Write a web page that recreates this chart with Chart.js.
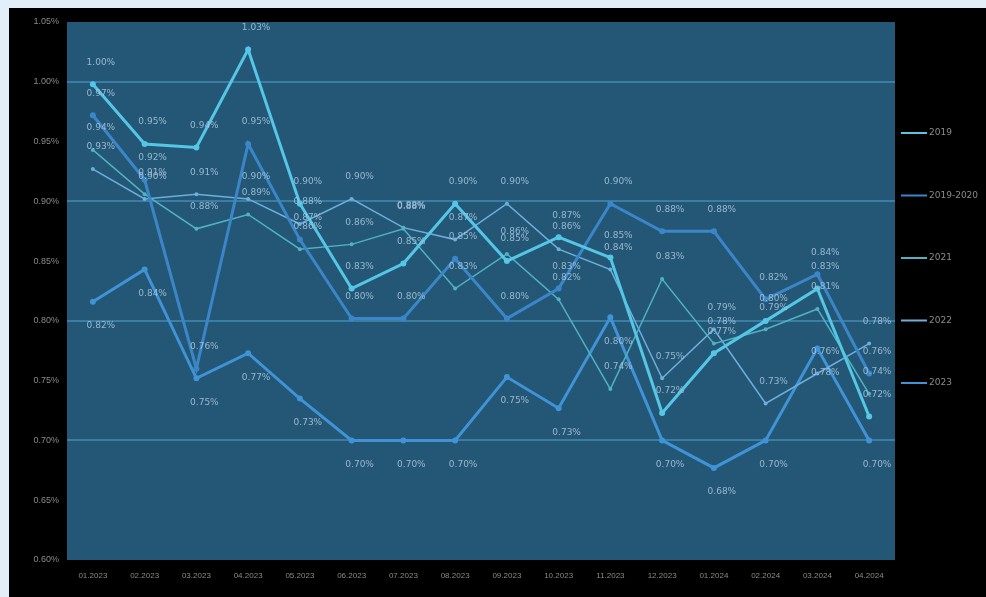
<!DOCTYPE html>
<html>
<head>
<meta charset="utf-8">
<script src="https://cdn.jsdelivr.net/npm/chart.js@4.4.0/dist/chart.umd.min.js"></script>
<style>
  html, body { margin: 0; padding: 0; background: #e2eff9; }
  #wrap { position: absolute; left: 9px; top: 8px; width: 977px; height: 589px; background: #000; }
</style>
</head>
<body>
<div id="wrap"><canvas id="myChart"></canvas></div>
<script>
// categories
var months = ["01.2023", "02.2023", "03.2023", "04.2023", "05.2023", "06.2023", "07.2023", "08.2023",
              "09.2023", "10.2023", "11.2023", "12.2023", "01.2024", "02.2024", "03.2024", "04.2024"];

// series values (%)
var s1 = [0.998, 0.948, 0.945, 1.027, 0.898, 0.827, 0.848, 0.898, 0.850, 0.870, 0.853, 0.723, 0.773, 0.800, 0.827, 0.720];
var s2 = [0.816, 0.843, 0.752, 0.773, 0.735, 0.700, 0.700, 0.700, 0.753, 0.727, 0.803, 0.700, 0.677, 0.700, 0.777, 0.700];
var s3 = [0.972, 0.918, 0.760, 0.948, 0.868, 0.802, 0.802, 0.852, 0.802, 0.827, 0.898, 0.875, 0.875, 0.818, 0.839, 0.756];
var s4 = [0.927, 0.902, 0.906, 0.902, 0.881, 0.902, 0.878, 0.868, 0.898, 0.860, 0.843, 0.752, 0.793, 0.731, 0.756, 0.781];
var s5 = [0.943, 0.906, 0.877, 0.889, 0.860, 0.864, 0.877, 0.827, 0.856, 0.818, 0.743, 0.835, 0.781, 0.793, 0.810, 0.739];

var seriesNames = ["2019", "2019-2020", "2021", "2022", "2023"];
var yMin = 0.60, yMax = 1.05, yStep = 0.05;

function mkSet(label, data, color, width, labelPos) {
    return {
        label: label,
        data: data,
        fill: false,
        tension: 0,
        borderColor: color,
        backgroundColor: color,
        borderWidth: width,
        pointRadius: width > 2 ? 3 : 2,
        pointBorderWidth: 0,
        pointBackgroundColor: color,
        labelPos: labelPos
    };
}

// plot background
var plotBg = {
    id: 'plotBg',
    beforeDraw: function (chart) {
        var a = chart.chartArea, c = chart.ctx;
        c.save();
        c.fillStyle = '#235775';
        c.fillRect(a.left, a.top, a.right - a.left, a.bottom - a.top);
        c.restore();
    }
};

// value labels next to points
var pointLabels = {
    id: 'pointLabels',
    afterDatasetsDraw: function (chart) {
        var c = chart.ctx;
        c.save();
        c.font = '9px "DejaVu Sans"';
        c.fillStyle = 'rgba(170,200,225,0.85)';
        c.textAlign = 'center';
        c.textBaseline = 'middle';
        chart.data.datasets.forEach(function (ds, i) {
            var meta = chart.getDatasetMeta(i);
            meta.data.forEach(function (pt, j) {
                var dy = ds.labelPos === 'below' ? 24 : -22;
                c.fillText(ds.data[j].toFixed(2) + '%', pt.x + 8, pt.y + dy);
            });
        });
        c.restore();
    }
};

// legend drawn on the right
var sideLegend = {
    id: 'sideLegend',
    afterDraw: function (chart) {
        var c = chart.ctx, a = chart.chartArea;
        c.save();
        c.font = '9px "DejaVu Sans"';
        c.textBaseline = 'middle';
        chart.data.datasets.forEach(function (ds, i) {
            var y = a.top + 111 + i * 62.5;
            var x = a.right + 6;
            c.strokeStyle = ds.borderColor;
            c.lineWidth = 2;
            c.beginPath();
            c.moveTo(x, y);
            c.lineTo(x + 26, y);
            c.stroke();
            c.fillStyle = '#8a8a8a';
            c.fillText(ds.label, x + 28, y);
        });
        c.restore();
    }
};

var ctx = document.getElementById("myChart").getContext('2d');
var myChart = new Chart(ctx, {
    type: 'line',
    data: {
        labels: months,
        datasets: [
            mkSet(seriesNames[0], s1, '#55c6e6', 3, 'above'),
            mkSet(seriesNames[1], s3, '#3b86c8', 3, 'above'),
            mkSet(seriesNames[2], s5, '#4fb3c4', 1.5, 'above'),
            mkSet(seriesNames[3], s4, '#6eaedc', 1.5, 'above'),
            mkSet(seriesNames[4], s2, '#3f93d6', 3, 'below')
        ]
    },
    options: {
        responsive: true,
        maintainAspectRatio: false,
        animation: false,
        layout: { padding: { top: 14, right: 91, left: 4, bottom: 0 } },
        plugins: {
            legend: { display: false },
            tooltip: { enabled: false }
        },
        scales: {
            x: {
                offset: true,
                grid: { display: false },
                border: { display: false },
                ticks: { color: '#8a8a8a', font: { size: 8 }, maxRotation: 0, autoSkip: false },
                afterFit: function (s) { s.height = 37; }
            },
            y: {
                min: yMin,
                max: yMax,
                border: { display: false },
                grid: {
                    drawTicks: false,
                    lineWidth: 2,
                    color: function (c) {
                        return (c.index % 2 === 0 && c.index > 0 && c.index < 9) ? '#3a7ea3' : 'transparent';
                    }
                },
                ticks: {
                    stepSize: yStep,
                    color: '#8a8a8a',
                    font: { size: 9 },
                    padding: 8,
                    callback: function (v) { return v.toFixed(2) + '%'; }
                },
                afterFit: function (s) { s.width = 54; }
            }
        }
    },
    plugins: [plotBg, pointLabels, sideLegend]
});
</script>
</body>
</html>
